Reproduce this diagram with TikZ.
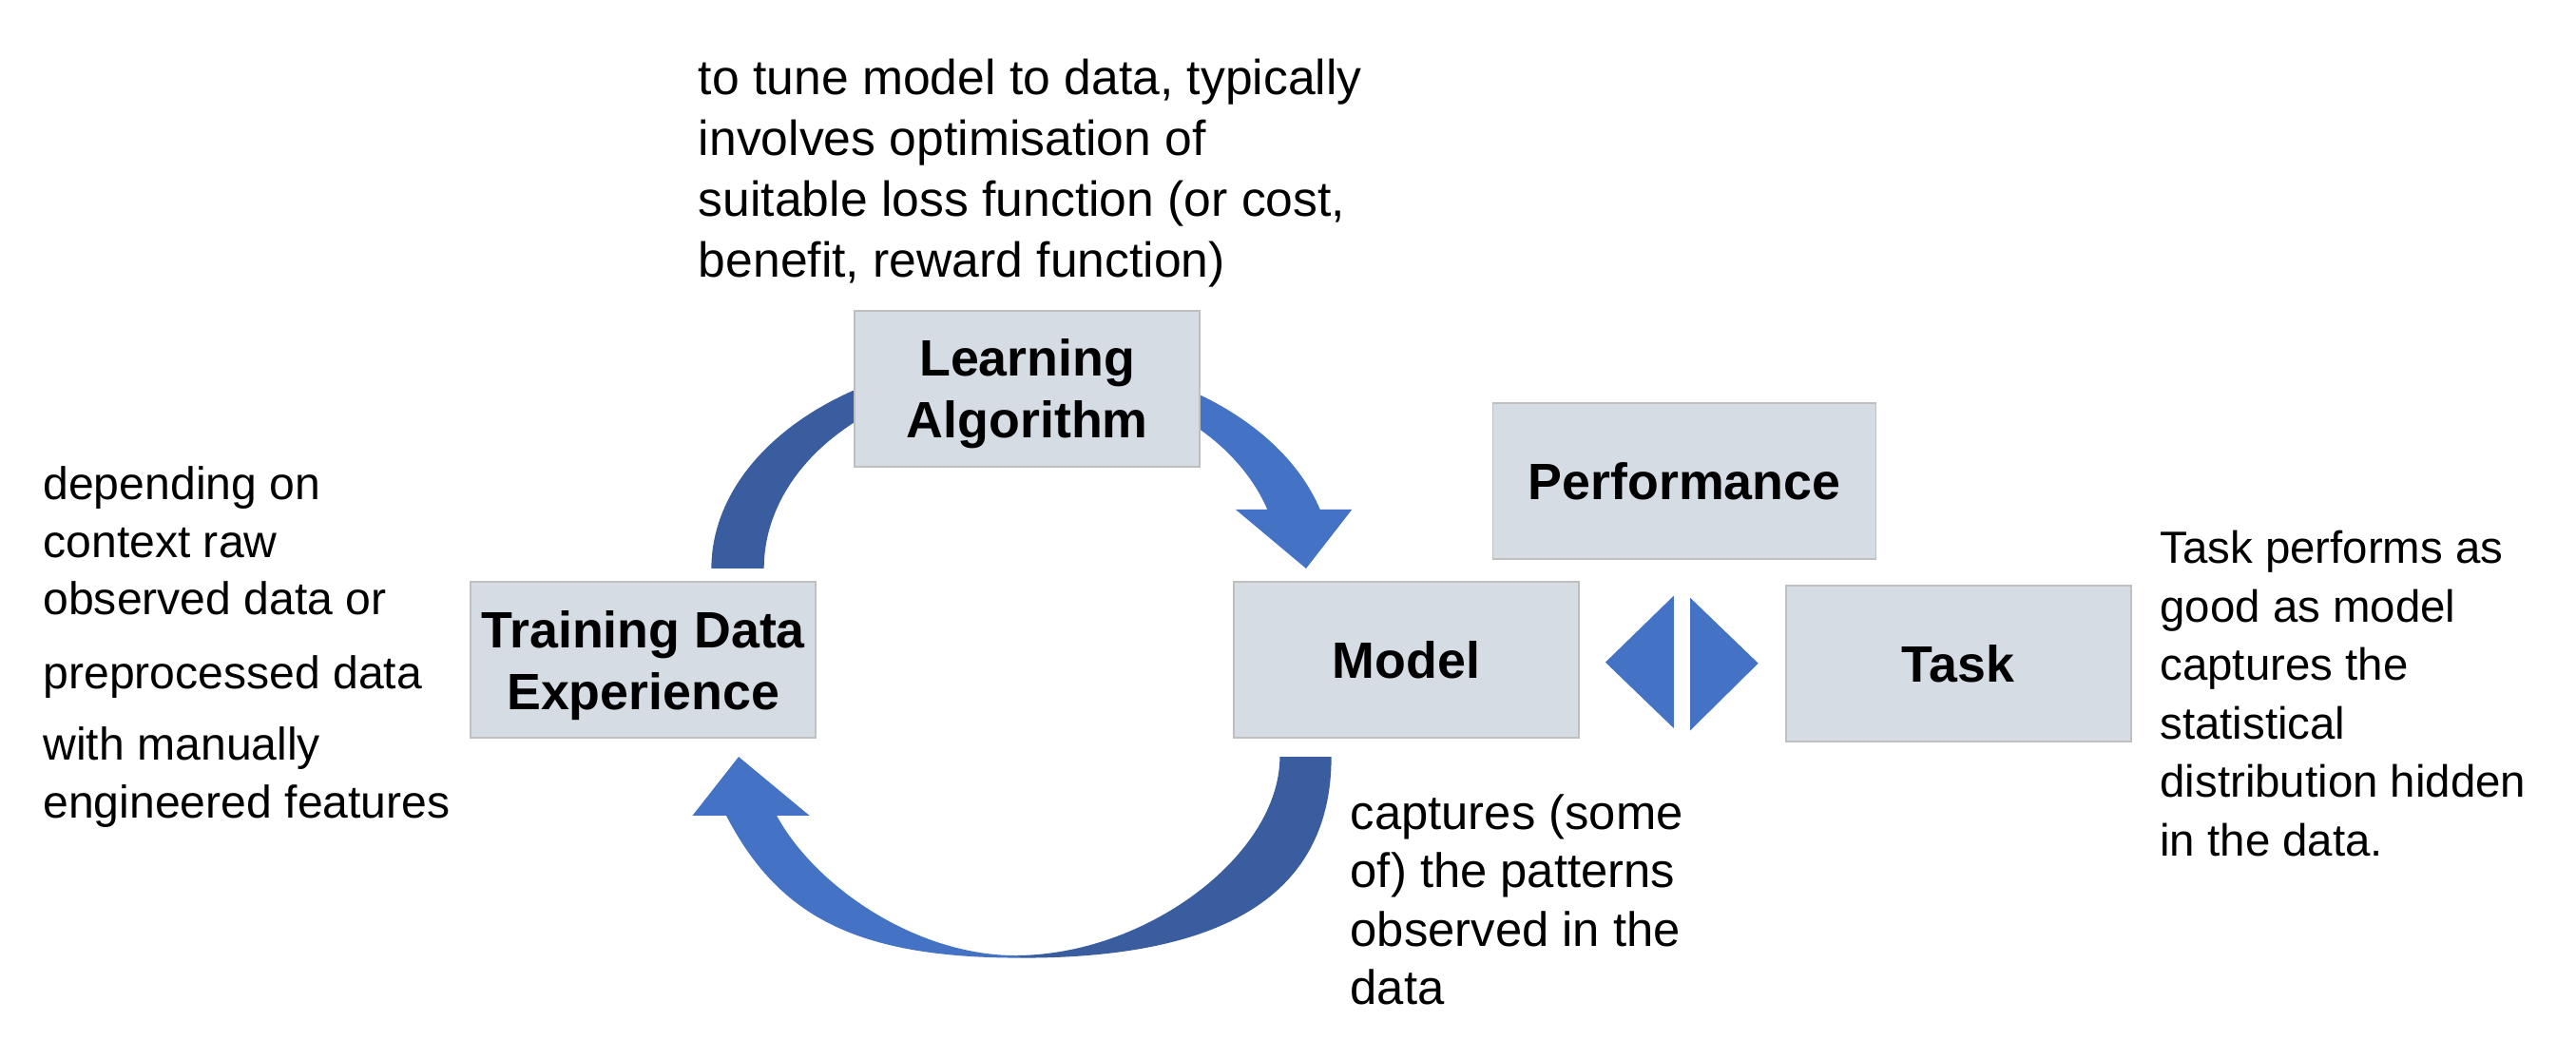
\documentclass[tikz,border=0pt]{standalone}
\usepackage{fontspec}
\setmainfont{Liberation Sans}
\definecolor{boxfill}{RGB}{214,220,228}
\definecolor{boxline}{RGB}{191,191,191}
\definecolor{arrowblue}{RGB}{68,114,196}
\definecolor{arrowdark}{RGB}{57,93,159}

\begin{document}
\begin{tikzpicture}[x=0.017283cm, y=-0.017283cm, samples=60,
  box/.style={draw=boxline, fill=boxfill, line width=0.5pt, inner sep=0pt,
    minimum width=3.63cm, minimum height=1.64cm, align=center, text depth=0pt,
    font=\bfseries\fontsize{15.3}{18.5}\selectfont},
  note/.style={anchor=base west, align=left, inner sep=0pt}]
  \useasboundingbox (0,0) rectangle (1568,644.6);
  \fill[arrowdark] plot[domain=180:270] ({622+189*cos(\x)}, {346+129*sin(\x)})
    -- plot[domain=270:180] ({622+157*cos(\x)}, {346+117*sin(\x)}) -- cycle;
  \fill[arrowblue] plot[domain=270:343.8] ({622+189*cos(\x)}, {346+129*sin(\x)})
    -- (823,310) -- (795,346) -- (752,310)
    -- plot[domain=342.1:270] ({622+157*cos(\x)}, {346+117*sin(\x)}) -- cycle;
  \fill[arrowdark] (810.4,460.6) .. controls (810.4,540) and (752,583) .. (622,583)
    -- (618,581.5) .. controls (698,581.5) and (779,520) .. (779,460.6) -- cycle;
  \fill[arrowblue] (622,583) .. controls (522,583) and (474.2,558.3) .. (442,496.3)
    -- (421.6,496.3) -- (449.6,460.6) -- (492.6,496.3) -- (472.7,496.3)
    .. controls (496.5,540) and (558,581.5) .. (618,581.5) -- cycle;
  \node[box] (learn) at (625.3,236.5) {Learning\\Algorithm};
  \node[box] (train) at (391.5,401.6) {Training Data\\Experience};
  \node[box] (model) at (856,401.7) {Model};
  \node[box, minimum width=4.03cm] (perf) at (1025.3,292.9) {Performance};
  \node[box] (task) at (1192,403.9) {Task};
  \fill[arrowblue] (977.2,403.1) -- (1018.8,362.6) -- (1018.8,443.2) -- cycle;
  \fill[arrowblue] (1028.8,363.8) -- (1070.2,403.7) -- (1028.8,444.6) -- cycle;
  \node[note, font=\fontsize{14.7}{18.2}\selectfont] (tune) at (424.8,168.8)
    {to tune model to data, typically\\involves optimisation of\\suitable loss function (or cost,\\benefit, reward function)};
  \node[note, font=\fontsize{13.7}{17.2}\selectfont] (raw) at (25.9,497.7)
    {depending on\\context raw\\observed data or\\[5.1pt]preprocessed data\\[4.1pt]with manually\\engineered features};
  \node[note, font=\fontsize{13.5}{17.5}\selectfont] (perform) at (1314.4,520.8)
    {Task performs as\\good as model\\captures the\\statistical\\distribution hidden\\in the data.};
  \node[note, font=\fontsize{14.45}{17.5}\selectfont] (capture) at (821.6,611.4)
    {captures (some\\of) the patterns\\observed in the\\data};
\end{tikzpicture}
\end{document}
